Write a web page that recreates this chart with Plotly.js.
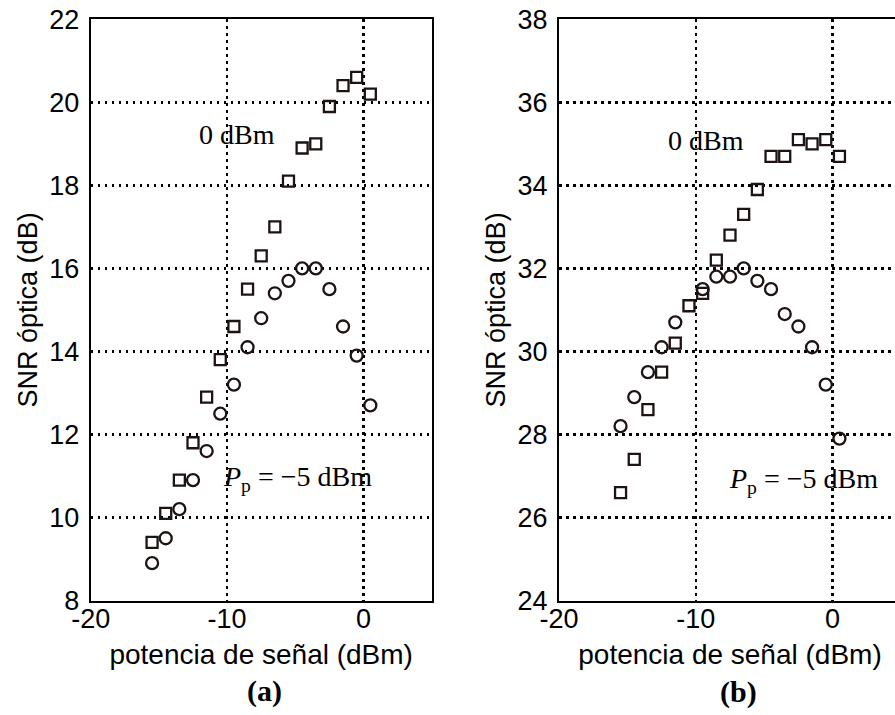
<!DOCTYPE html>
<html>
<head>
<meta charset="utf-8">
<script src="https://cdn.plot.ly/plotly-3.0.1.min.js"></script>
<style>
html,body{margin:0;padding:0;overflow:hidden;background:#fff;width:895px;height:715px;}
#chart{width:910px;height:715px;}
</style>
</head>
<body>
<div id="chart"></div>
<script>
// Panel (a)
const xA = [-15.5,-14.5,-13.5,-12.5,-11.5,-10.5,-9.5,-8.5,-7.5,-6.5,-5.5,-4.5,-3.5,-2.5,-1.5,-0.5,0.5];
const sqA = [9.4,10.1,10.9,11.8,12.9,13.8,14.6,15.5,16.3,17.0,18.1,18.9,19.0,19.9,20.4,20.6,20.2];
const ciA = [8.9,9.5,10.2,10.9,11.6,12.5,13.2,14.1,14.8,15.4,15.7,16.0,16.0,15.5,14.6,13.9,12.7];
// Panel (b)
const xBsq = [-15.5,-14.5,-13.5,-12.5,-11.5,-10.5,-9.5,-8.5,-7.5,-6.5,-5.5,-4.5,-3.5,-2.5,-1.5,-0.5,0.5];
const sqB = [26.6,27.4,28.6,29.5,30.2,31.1,31.4,32.2,32.8,33.3,33.9,34.7,34.7,35.1,35.0,35.1,34.7];
const xBci = [-15.5,-14.5,-13.5,-12.5,-11.5,-9.5,-8.5,-7.5,-6.5,-5.5,-4.5,-3.5,-2.5,-1.5,-0.5,0.5];
const ciB = [28.2,28.9,29.5,30.1,30.7,31.5,31.8,31.8,32.0,31.7,31.5,30.9,30.6,30.1,29.2,27.9];

const xTicks = [-20,-10,0];
const xTitle = 'potencia de señal (dBm)';
const yTitle = 'SNR óptica (dB)';
const lblHigh = '0 dBm';
const lblLow = '<i>P</i><sub>p</sub> = \u22125 dBm';
const panelA = '<b>(a)</b>';
const panelB = '<b>(b)</b>';

const W = 910, H = 715;
const mcol = '#1e1212';
const sans = 'Liberation Sans, Arial, sans-serif';
const serif = 'Liberation Serif, Times New Roman, serif';

function mk(x, y, sym, xa, ya){
  return {type:'scatter', mode:'markers', x:x, y:y, xaxis:xa, yaxis:ya,
    marker:{symbol:sym, size: sym==='square-open'?11:12, color:mcol, line:{width:2.3, color:mcol}},
    hoverinfo:'x+y', showlegend:false};
}
const data = [
  mk(xA, ciA, 'circle-open', 'x', 'y'),
  mk(xA, sqA, 'square-open', 'x', 'y'),
  mk(xBci, ciB, 'circle-open', 'x2', 'y2'),
  mk(xBsq, sqB, 'square-open', 'x2', 'y2')
];

const yDom = [1 - 600.5/H, 1 - 19.3/H];
function xax(dom){
  return {domain:dom, range:[-20,5], tickvals:xTicks, ticktext:xTicks.map(String),
    showline:true, mirror:true, linewidth:2, linecolor:'#000',
    showgrid:true, gridcolor:'#000', gridwidth:2.5, griddash:'2.5px,4.5px',
    zeroline:false, ticks:'', ticklabelstandoff:-7,
    tickfont:{family:sans, size:27, color:'#000'},
    title:{text:xTitle, font:{family:sans, size:28, color:'#000'}, standoff:11}};
}
function yax(rng, anchor){
  return {domain:yDom, range:rng, dtick:2, tick0:0, anchor:anchor,
    showline:true, mirror:true, linewidth:2, linecolor:'#000',
    showgrid:true, gridcolor:'#000', gridwidth:2.5, griddash:'2.5px,4.5px',
    zeroline:false, ticks:'', ticklabelstandoff:4,
    tickfont:{family:sans, size:27, color:'#000'},
    title:{text:yTitle, font:{family:sans, size:27, color:'#000'}, standoff:4}};
}

const layout = {
  width:W, height:H, margin:{l:0,r:0,t:0,b:0}, paper_bgcolor:'#fff', plot_bgcolor:'#fff',
  showlegend:false,
  xaxis: Object.assign(xax([90.7/W, 431.7/W]), {anchor:'y'}),
  yaxis: yax([8,22], 'x'),
  xaxis2: Object.assign(xax([559/W, 901/W]), {anchor:'y2'}),
  yaxis2: yax([24,38], 'x2'),
  annotations:[
    {xref:'x', yref:'y', x:-9.29, y:19.22, text:lblHigh, showarrow:false, font:{family:serif, size:28, color:'#000'}},
    {xref:'x', yref:'y', x:-4.86, y:10.95, text:lblLow, showarrow:false, font:{family:serif, size:28, color:'#000'}},
    {xref:'x2', yref:'y2', x:-9.27, y:35.07, text:lblHigh, showarrow:false, font:{family:serif, size:28, color:'#000'}},
    {xref:'x2', yref:'y2', x:-2.11, y:26.9, text:lblLow, showarrow:false, font:{family:serif, size:28, color:'#000'}},
    {xref:'paper', yref:'paper', x:264/W, y:1-691/H, xanchor:'center', yanchor:'middle', text:panelA, showarrow:false, font:{family:serif, size:30, color:'#000'}},
    {xref:'paper', yref:'paper', x:738/W, y:1-692/H, xanchor:'center', yanchor:'middle', text:panelB, showarrow:false, font:{family:serif, size:30, color:'#000'}}
  ]
};

Plotly.newPlot('chart', data, layout, {staticPlot:true, displayModeBar:false});
</script>
</body>
</html>
